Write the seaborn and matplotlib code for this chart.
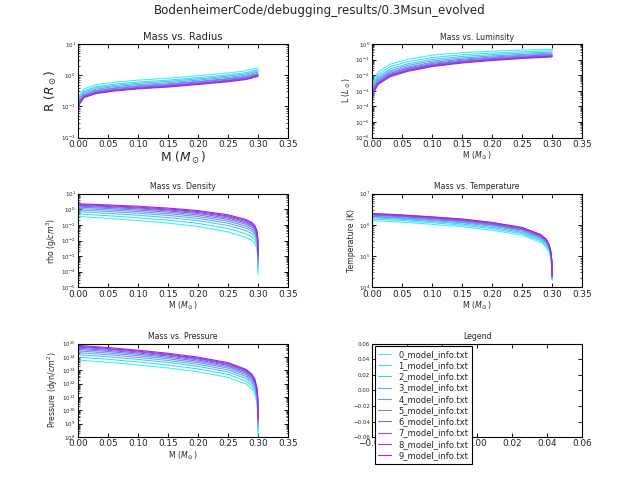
import numpy as np
import pandas as pd
import matplotlib
matplotlib.use('Agg')
import matplotlib.pyplot as plt
import seaborn as sns
from matplotlib.ticker import LogLocator, NullFormatter, FormatStrFormatter

models = ['%d_model_info.txt' % i for i in range(10)]

# mass grid (M_sun) for radius / luminosity profiles
mass_core = [0.0005, 0.002, 0.01, 0.03, 0.06, 0.1, 0.15, 0.2, 0.25, 0.28, 0.3]
mass_lum = [0.0005, 0.002, 0.01, 0.03, 0.06, 0.1, 0.15, 0.2, 0.25, 0.3]
# mass grid for density / temperature / pressure (steep drop at the surface)
mass_edge = [0.0, 0.05, 0.1, 0.15, 0.2, 0.25, 0.28, 0.29, 0.295, 0.298, 0.2995, 0.3]

# log10 values, one row per model (0 = cyan ... 9 = purple)
log_radius = [
    [-0.86, -0.66, -0.44, -0.31, -0.23, -0.16, -0.10, -0.02, 0.07, 0.14, 0.24],
    [-0.92, -0.72, -0.50, -0.37, -0.29, -0.22, -0.16, -0.08, 0.01, 0.08, 0.18],
    [-0.96, -0.76, -0.54, -0.41, -0.33, -0.26, -0.20, -0.12, -0.03, 0.04, 0.14],
    [-1.00, -0.80, -0.58, -0.45, -0.37, -0.30, -0.24, -0.16, -0.07, 0.00, 0.10],
    [-1.04, -0.84, -0.62, -0.49, -0.41, -0.34, -0.28, -0.20, -0.11, -0.04, 0.06],
    [-1.06, -0.86, -0.64, -0.51, -0.43, -0.36, -0.30, -0.22, -0.13, -0.06, 0.04],
    [-1.09, -0.89, -0.67, -0.54, -0.46, -0.39, -0.33, -0.25, -0.16, -0.09, 0.01],
    [-1.11, -0.91, -0.69, -0.56, -0.48, -0.41, -0.35, -0.27, -0.18, -0.11, -0.01],
    [-1.12, -0.92, -0.70, -0.57, -0.49, -0.42, -0.36, -0.28, -0.19, -0.12, -0.02],
    [-1.14, -0.94, -0.72, -0.59, -0.51, -0.44, -0.38, -0.30, -0.21, -0.14, -0.04],
]

log_lum = [
    [-2.90, -2.40, -1.80, -1.30, -0.98, -0.72, -0.56, -0.46, -0.39, -0.34],
    [-3.04, -2.55, -1.96, -1.46, -1.13, -0.87, -0.69, -0.58, -0.50, -0.44],
    [-3.16, -2.68, -2.10, -1.60, -1.27, -0.99, -0.80, -0.68, -0.59, -0.52],
    [-3.26, -2.78, -2.21, -1.71, -1.37, -1.09, -0.90, -0.77, -0.67, -0.59],
    [-3.34, -2.87, -2.30, -1.80, -1.47, -1.18, -0.98, -0.84, -0.73, -0.65],
    [-3.41, -2.95, -2.38, -1.88, -1.54, -1.25, -1.04, -0.90, -0.78, -0.70],
    [-3.47, -3.01, -2.45, -1.95, -1.60, -1.31, -1.10, -0.95, -0.83, -0.74],
    [-3.52, -3.06, -2.50, -2.00, -1.66, -1.36, -1.14, -0.99, -0.87, -0.77],
    [-3.56, -3.11, -2.55, -2.05, -1.70, -1.41, -1.18, -1.02, -0.90, -0.80],
    [-3.60, -3.15, -2.60, -2.10, -1.75, -1.45, -1.22, -1.06, -0.93, -0.83],
]

log_rho = [
    [-0.45, -0.58, -0.72, -0.88, -1.10, -1.45, -1.80, -2.00, -2.20, -2.50, -3.00, -4.20],
    [-0.29, -0.41, -0.54, -0.69, -0.90, -1.23, -1.57, -1.77, -1.97, -2.27, -2.76, -3.92],
    [-0.15, -0.26, -0.38, -0.53, -0.72, -1.04, -1.37, -1.57, -1.77, -2.07, -2.56, -3.68],
    [-0.04, -0.14, -0.25, -0.39, -0.58, -0.89, -1.21, -1.41, -1.61, -1.91, -2.39, -3.49],
    [0.06, -0.04, -0.14, -0.28, -0.46, -0.76, -1.08, -1.28, -1.48, -1.78, -2.24, -3.32],
    [0.14, 0.05, -0.05, -0.18, -0.36, -0.65, -0.96, -1.16, -1.36, -1.66, -2.12, -3.18],
    [0.21, 0.12, 0.03, -0.10, -0.27, -0.56, -0.87, -1.07, -1.27, -1.57, -2.03, -3.07],
    [0.26, 0.18, 0.09, -0.04, -0.20, -0.48, -0.79, -0.99, -1.19, -1.49, -1.94, -2.97],
    [0.31, 0.23, 0.14, 0.02, -0.14, -0.42, -0.72, -0.92, -1.12, -1.42, -1.87, -2.88],
    [0.36, 0.28, 0.20, 0.08, -0.08, -0.35, -0.65, -0.85, -1.05, -1.35, -1.80, -2.80],
]

log_temp = [
    [6.14, 6.09, 6.02, 5.94, 5.83, 5.67, 5.45, 5.30, 5.13, 4.90, 4.60, 4.22],
    [6.19, 6.14, 6.07, 5.99, 5.88, 5.72, 5.50, 5.35, 5.18, 4.95, 4.65, 4.25],
    [6.23, 6.18, 6.11, 6.03, 5.92, 5.76, 5.54, 5.39, 5.22, 4.99, 4.69, 4.28],
    [6.26, 6.21, 6.14, 6.07, 5.96, 5.80, 5.58, 5.43, 5.25, 5.03, 4.73, 4.30],
    [6.28, 6.23, 6.17, 6.10, 5.99, 5.83, 5.61, 5.46, 5.28, 5.06, 4.76, 4.32],
    [6.31, 6.26, 6.20, 6.12, 6.01, 5.85, 5.63, 5.48, 5.31, 5.08, 4.78, 4.34],
    [6.33, 6.28, 6.21, 6.14, 6.03, 5.87, 5.65, 5.50, 5.32, 5.10, 4.80, 4.35],
    [6.34, 6.29, 6.23, 6.16, 6.05, 5.89, 5.67, 5.52, 5.34, 5.12, 4.82, 4.36],
    [6.36, 6.31, 6.25, 6.18, 6.07, 5.91, 5.69, 5.54, 5.36, 5.14, 4.84, 4.37],
    [6.37, 6.32, 6.26, 6.19, 6.08, 5.92, 5.70, 5.55, 5.37, 5.15, 4.85, 4.38],
]

log_pres = [
    [13.76, 13.60, 13.40, 13.17, 12.88, 12.47, 11.97, 11.60, 11.20, 10.60, 9.80, 8.13],
    [13.98, 13.82, 13.62, 13.39, 13.10, 12.69, 12.19, 11.82, 11.42, 10.82, 10.04, 8.40],
    [14.17, 14.01, 13.81, 13.58, 13.29, 12.88, 12.38, 12.01, 11.61, 11.01, 10.24, 8.63],
    [14.32, 14.16, 13.96, 13.73, 13.44, 13.03, 12.53, 12.16, 11.76, 11.16, 10.41, 8.82],
    [14.45, 14.29, 14.09, 13.86, 13.57, 13.16, 12.66, 12.29, 11.89, 11.29, 10.56, 8.99],
    [14.56, 14.40, 14.20, 13.97, 13.68, 13.27, 12.77, 12.40, 12.00, 11.40, 10.68, 9.12],
    [14.65, 14.49, 14.29, 14.06, 13.77, 13.36, 12.86, 12.49, 12.09, 11.49, 10.77, 9.23],
    [14.73, 14.57, 14.37, 14.14, 13.85, 13.44, 12.94, 12.57, 12.17, 11.57, 10.86, 9.33],
    [14.79, 14.63, 14.43, 14.20, 13.91, 13.50, 13.00, 12.63, 12.23, 11.63, 10.93, 9.41],
    [14.86, 14.70, 14.50, 14.27, 13.98, 13.57, 13.07, 12.70, 12.30, 11.70, 11.00, 9.49],
]


def to_frame(mass, table):
    rows = []
    for name, vals in zip(models, table):
        for m, v in zip(mass, vals):
            rows.append((name, m, 10.0 ** v))
    return pd.DataFrame(rows, columns=['model', 'M', 'val'])


sns.set_style('ticks', {'xtick.direction': 'in', 'ytick.direction': 'in'})
palette = sns.blend_palette(['#40f0f0', '#9e26e6'], 10)

fig, axes = plt.subplots(3, 2, figsize=(639 / 80, 483 / 80), dpi=80)
fig.subplots_adjust(left=0.122, right=0.911, bottom=0.095, top=0.909, wspace=0.4, hspace=0.6)

panels = [
    (axes[0, 0], mass_core, log_radius, 'Mass vs. Radius', r'R ($R_\odot$)', (1e-2, 1e1)),
    (axes[0, 1], mass_lum, log_lum, 'Mass vs. Luminsity', r'L ($L_\odot$)', (1e-6, 1e0)),
    (axes[1, 0], mass_edge, log_rho, 'Mass vs. Density', r'rho (g/$cm^3$)', (1e-5, 1e1)),
    (axes[1, 1], mass_edge, log_temp, 'Mass vs. Temperature', 'Temperature (K)', (1e4, 1e7)),
    (axes[2, 0], mass_edge, log_pres, 'Mass vs. Pressure', r'Pressure (dyn/$cm^2$)', (1e8, 1e15)),
]

for k, (ax, mass, table, title, ylabel, ylim) in enumerate(panels):
    df = to_frame(mass, table)
    sns.lineplot(data=df, x='M', y='val', hue='model', hue_order=models, palette=palette,
                 estimator=None, linewidth=1.0, legend=False, ax=ax)
    ax.set_yscale('log')
    ax.set_xlim(0, 0.35)
    ax.set_ylim(*ylim)
    ax.set_xticks(np.arange(0, 0.351, 0.05))
    ax.xaxis.set_major_formatter(FormatStrFormatter('%.2f'))
    ax.yaxis.set_major_locator(LogLocator(base=10, numticks=30))
    ax.yaxis.set_minor_locator(LogLocator(base=10, subs=np.arange(2, 10), numticks=100))
    ax.yaxis.set_minor_formatter(NullFormatter())
    big = (k == 0)
    ax.set_title(title, fontsize=9 if big else 7, pad=4)
    ax.set_xlabel(r'M ($M_\odot$)', fontsize=11 if big else 7, labelpad=1)
    ax.set_ylabel(ylabel, fontsize=11 if big else 7, labelpad=2)
    ax.tick_params(axis='x', labelsize=8, pad=2)
    ax.tick_params(axis='y', labelsize=5, pad=2)
    ax.tick_params(which='both', top=True, right=True, direction='in', color='black')
    ax.tick_params(which='major', length=4)
    ax.tick_params(which='minor', length=2)
    for s in ax.spines.values():
        s.set_color('black')
        s.set_linewidth(1.0)

# legend panel
ax = axes[2, 1]
for name, col in zip(models, palette):
    ax.plot([], [], color=col, label=name, linewidth=1.0)
ticks = np.arange(-0.06, 0.061, 0.02)
tick_text = [('%.2f' % v).replace('-', '\u2212') for v in ticks]
ax.set_xlim(-0.06, 0.06)
ax.set_ylim(-0.06, 0.06)
ax.set_xticks(ticks)
ax.set_yticks(ticks)
ax.set_xticklabels(tick_text)
ax.set_yticklabels(tick_text)
ax.set_title('Legend', fontsize=7, pad=4)
ax.tick_params(axis='x', labelsize=8, pad=2)
ax.tick_params(axis='y', labelsize=5, pad=2)
ax.tick_params(which='both', top=True, right=True, direction='in', length=4, color='black')
for s in ax.spines.values():
    s.set_color('black')
    s.set_linewidth(1.0)
leg = ax.legend(loc='upper left', fontsize=7.5, labelspacing=0.27, handlelength=1.5,
                handletextpad=0.9, borderpad=0.45, borderaxespad=0.3, fancybox=False,
                framealpha=1.0, edgecolor='black')
leg.get_frame().set_linewidth(1.0)

fig.suptitle('BodenheimerCode/debugging_results/0.3Msun_evolved', fontsize=10.7, y=0.978, va='center')

fig.savefig('out.png', dpi=80)
